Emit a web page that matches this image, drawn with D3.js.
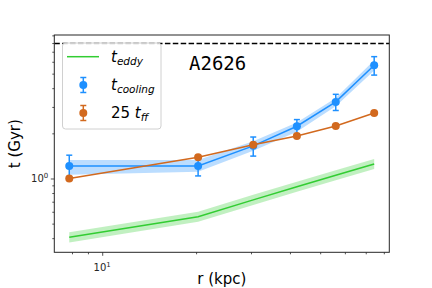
<!DOCTYPE html>
<html>
<head>
<meta charset="utf-8">
<script src="https://cdn.jsdelivr.net/npm/d3@7"></script>
<style>
  body { margin: 0; background: #fff; }
  svg { display: block; font-family: "DejaVu Sans", sans-serif; }
  .mono { font-family: "DejaVu Sans Mono", "Liberation Mono", monospace; }
</style>
</head>
<body>
<svg width="432" height="288"></svg>
<script>
// radii of the annuli (kpc)
const radius = [7.84, 20.3, 30.5, 42.1, 56.1, 74.5];

// cooling time with errors and band
const tCool = [1.21, 1.21, 1.65, 2.23, 3.24, 5.69];
const tCoolErr = [0.22, 0.17, 0.24, 0.24, 0.4, 0.8];
const tCoolLo = [1.06, 1.11, 1.53, 2.05, 3.03, 5.24];
const tCoolHi = [1.33, 1.33, 1.77, 2.36, 3.44, 6.15];

// 25 x free-fall time
const tFF = [1.0, 1.385, 1.68, 1.92, 2.24, 2.73];
const tFFErr = [0.01, 0.01, 0.01, 0.01, 0.01, 0.01];

// eddy turnover time and band
const tEddy = [0.405, 0.556, 0.72, 0.88, 1.05, 1.25];
const tEddyLo = tEddy.map(v => v / 1.08);
const tEddyHi = tEddy.map(v => v * 1.08);

const tHubble = 7.94; // dashed reference line

const xMinorTicks = [8, 9, 20, 30, 40, 50, 60, 70, 80];
const yMinorTicks = [0.4, 0.5, 0.6, 0.7, 0.8, 0.9, 2, 3, 4, 5, 6, 7, 8, 9];

const blue = "#1e90ff", orange = "#d2691e", green = "#32cd32";

const svg = d3.select("svg");
const L = 54.3, R = 389.3, T = 35, B = 252.3;

const x = d3.scaleLog().domain([7.02, 83.3]).range([L, R]);
const y = d3.scaleLog().domain([0.322, 9.05]).range([B, T]);

const plot = svg.append("g");

// bands
const band = (lo, hi) => d3.area()
    .x((d, i) => x(radius[i]))
    .y0((d, i) => y(lo[i]))
    .y1((d, i) => y(hi[i]));

plot.append("path").datum(radius)
    .attr("d", band(tEddyLo, tEddyHi))
    .attr("fill", green).attr("fill-opacity", 0.3);
plot.append("path").datum(radius)
    .attr("d", band(tCoolLo, tCoolHi))
    .attr("fill", blue).attr("fill-opacity", 0.3);

// dashed line
plot.append("line")
    .attr("x1", L).attr("x2", R)
    .attr("y1", y(tHubble)).attr("y2", y(tHubble))
    .attr("stroke", "#000").attr("stroke-width", 1.5)
    .attr("stroke-dasharray", "5.5,2.4");

const line = vals => d3.line()
    .x((d, i) => x(radius[i]))
    .y((d, i) => y(vals[i]));

plot.append("path").datum(radius)
    .attr("d", line(tEddy))
    .attr("fill", "none").attr("stroke", green).attr("stroke-width", 1.5);

function errSeries(vals, errs, color) {
    const g = plot.append("g");
    g.append("path").datum(radius)
        .attr("d", line(vals))
        .attr("fill", "none").attr("stroke", color).attr("stroke-width", 1.5);
    radius.forEach((r, i) => {
        const cx = x(r), y1 = y(vals[i] + errs[i]), y0 = y(vals[i] - errs[i]);
        g.append("line").attr("x1", cx).attr("x2", cx).attr("y1", y0).attr("y2", y1)
            .attr("stroke", color).attr("stroke-width", 1.5);
        [y0, y1].forEach(cy => g.append("line")
            .attr("x1", cx - 3).attr("x2", cx + 3).attr("y1", cy).attr("y2", cy)
            .attr("stroke", color).attr("stroke-width", 1.5));
        g.append("circle").attr("cx", cx).attr("cy", y(vals[i])).attr("r", 4)
            .attr("fill", color);
    });
}
errSeries(tCool, tCoolErr, blue);
errSeries(tFF, tFFErr, orange);

// axes
const axisColor = "#262626";
svg.append("g").attr("transform", `translate(0,${B})`)
    .call(d3.axisBottom(x).tickValues([10]).tickSize(3.5).tickFormat(() => ""));
svg.append("g").attr("transform", `translate(0,${B})`)
    .call(d3.axisBottom(x).tickValues(xMinorTicks).tickSize(2).tickFormat(""));
svg.append("g").attr("transform", `translate(${L},0)`)
    .call(d3.axisLeft(y).tickValues([1]).tickSize(3.5).tickFormat(() => ""));
svg.append("g").attr("transform", `translate(${L},0)`)
    .call(d3.axisLeft(y).tickValues(yMinorTicks.filter(v => v <= 9.05)).tickSize(2).tickFormat(""));
svg.selectAll(".domain").remove();
svg.selectAll(".tick line").attr("stroke", axisColor).attr("stroke-width", 0.8);

// spines
svg.append("rect").attr("x", L).attr("y", T).attr("width", R - L).attr("height", B - T)
    .attr("fill", "none").attr("stroke", axisColor).attr("stroke-width", 1);

// tick labels with superscripts
function powLabel(g, px, py, exp, anchor) {
    const t = g.append("text").attr("x", px).attr("y", py)
        .attr("text-anchor", anchor).attr("font-size", 10).attr("fill", axisColor);
    t.append("tspan").text("10");
    t.append("tspan").attr("dy", -4).attr("font-size", 7).text(exp);
}
powLabel(svg, x(10), 271, "1", "middle");
powLabel(svg, L - 6, y(1) + 4, "0", "end");

// axis titles
svg.append("text").attr("x", (L + R) / 2).attr("y", 284)
    .attr("text-anchor", "middle").attr("font-size", 15).attr("fill", "#000")
    .text("r (kpc)");
svg.append("text")
    .attr("transform", `translate(20,${(T + B) / 2}) rotate(-90)`)
    .attr("text-anchor", "middle").attr("font-size", 15).attr("fill", "#000")
    .text("t (Gyr)");

// cluster name
svg.append("text").attr("class", "mono").attr("x", 189).attr("y", 70)
    .attr("font-size", 19).attr("fill", "#000")
    .text("A2626");

// legend
const lg = svg.append("g");
lg.append("rect").attr("x", 62.5).attr("y", 43).attr("width", 98.5).attr("height", 86)
    .attr("rx", 3).attr("fill", "#fff").attr("fill-opacity", 0.8)
    .attr("stroke", "#d0d0d0").attr("stroke-width", 1);

lg.append("line").attr("x1", 67).attr("x2", 99).attr("y1", 56.7).attr("y2", 56.7)
    .attr("stroke", green).attr("stroke-width", 1.5);

[[85, blue], [113, orange]].forEach(([cy, c]) => {
    lg.append("line").attr("x1", 83.3).attr("x2", 83.3).attr("y1", cy - 7.5).attr("y2", cy + 7.5)
        .attr("stroke", c).attr("stroke-width", 1.5);
    [cy - 7.5, cy + 7.5].forEach(yy => lg.append("line")
        .attr("x1", 80.3).attr("x2", 86.3).attr("y1", yy).attr("y2", yy)
        .attr("stroke", c).attr("stroke-width", 1.5));
    lg.append("circle").attr("cx", 83.3).attr("cy", cy).attr("r", 4).attr("fill", c);
});

function mathLabel(px, py, prefix, sub) {
    const t = lg.append("text").attr("x", px).attr("y", py).attr("font-size", 15).attr("fill", "#000");
    if (prefix) t.append("tspan").text(prefix);
    t.append("tspan").attr("font-style", "italic").text("t");
    t.append("tspan").attr("font-style", "italic").attr("font-size", 10.5).attr("dy", 3).text(sub);
}
mathLabel(111, 62, "", "eddy");
mathLabel(111, 90, "", "cooling");
mathLabel(111, 118, "25 ", "ff");
</script>
</body>
</html>
